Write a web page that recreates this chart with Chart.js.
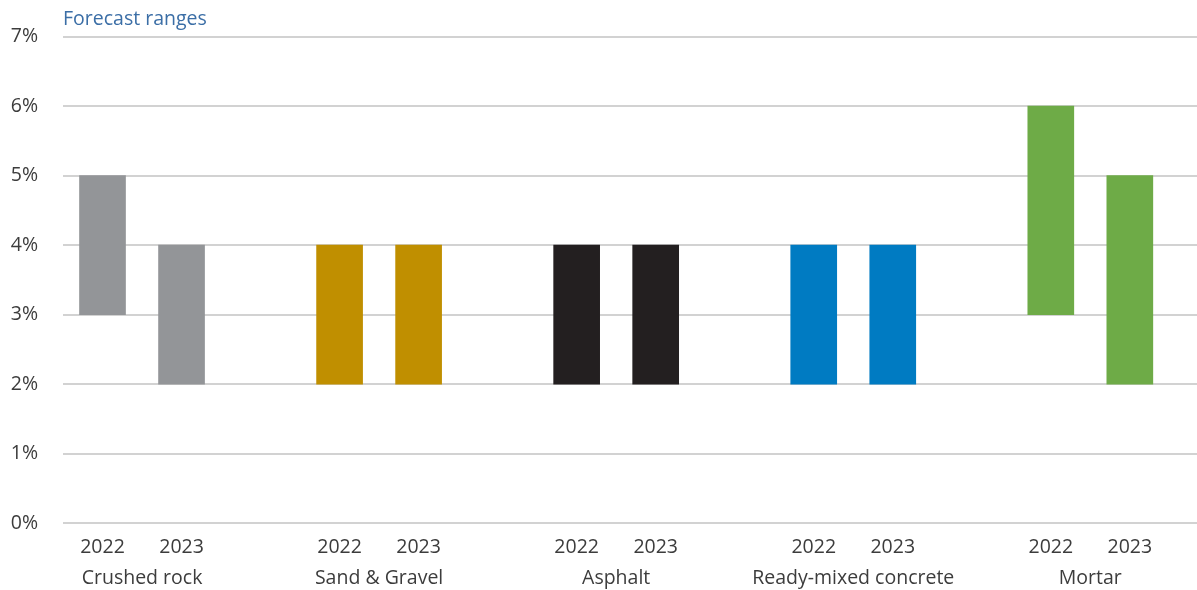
<!DOCTYPE html>
<html>
<head>
<meta charset="utf-8">
<script src="https://cdn.jsdelivr.net/npm/chart.js@4/dist/chart.umd.min.js"></script>
<style>
    html, body { margin: 0; padding: 0; background: #ffffff; }
    #wrap { width: 1197px; height: 590px; }
</style>
</head>
<body>
<div id="wrap"><canvas id="rangeChart"></canvas></div>
<script>
// Materials and the forecast years shown under each pair of bars
const materials = ['Crushed rock', 'Sand & Gravel', 'Asphalt', 'Ready-mixed concrete', 'Mortar'];
const years = ['2022', '2023'];

// Low / high end of each range, in %, ordered material by material (2022, 2023)
const rangeLow  = [3, 2, 2, 2, 2, 2, 2, 2, 3, 2];
const rangeHigh = [5, 4, 4, 4, 4, 4, 4, 4, 6, 5];

const materialColors = ['#939598', '#c08f00', '#231f20', '#007bc2', '#6eab47'];

const yTicks = [0, 1, 2, 3, 4, 5, 6, 7];

document.addEventListener('DOMContentLoaded', function() {
    initRangeChart();
});

function initRangeChart() {
    const ctx = document.getElementById('rangeChart').getContext('2d');

    // each material takes three slots on the x axis: two bars and a gap
    const points = [];
    const colors = [];
    const tickLabels = {};
    materials.forEach((name, m) => {
        years.forEach((yr, k) => {
            const i = m * years.length + k;
            const x = m * 3 + k;
            points.push({ x: x, y: [rangeLow[i], rangeHigh[i]] });
            colors.push(materialColors[m]);
            tickLabels[x] = [yr];
        });
        // material name sits on the second line, centred under its pair
        tickLabels[m * 3 + 0.5] = ['', name];
    });

    const textColor = '#3c3c3c';

    new Chart(ctx, {
        type: 'bar',
        data: {
            datasets: [{
                data: points,
                backgroundColor: colors,
                borderWidth: 0,
                barThickness: 46
            }]
        },
        options: {
            responsive: true,
            maintainAspectRatio: false,
            animation: false,
            layout: {
                padding: { left: 0, right: 0, top: 0, bottom: 0 }
            },
            plugins: {
                legend: { display: false },
                tooltip: { enabled: false },
                title: {
                    display: true,
                    text: 'Forecast ranges',
                    align: 'start',
                    fullSize: false,
                    color: '#3b6ea6',
                    font: { family: 'Open Sans', size: 19.5, weight: 'normal' },
                    padding: { top: 7, bottom: 6 }
                }
            },
            scales: {
                x: {
                    type: 'linear',
                    offset: false,
                    min: -0.5,
                    max: 13.85,
                    grid: { display: false, drawTicks: false },
                    border: { display: false },
                    afterBuildTicks: function(scale) {
                        scale.ticks = Object.keys(tickLabels)
                            .map(Number)
                            .sort((a, b) => a - b)
                            .map(v => ({ value: v }));
                    },
                    afterFit: function(scale) {
                        scale.height = 67;
                    },
                    ticks: {
                        autoSkip: false,
                        maxRotation: 0,
                        padding: 9,
                        color: textColor,
                        font: { family: 'Open Sans', size: 19.5, lineHeight: 1.59 },
                        callback: function(value) {
                            return tickLabels[value] || '';
                        }
                    }
                },
                y: {
                    min: 0,
                    max: 7,
                    afterBuildTicks: function(scale) {
                        scale.ticks = yTicks.map(v => ({ value: v }));
                    },
                    afterFit: function(scale) {
                        scale.width = 63;
                    },
                    grid: {
                        color: '#d2d2d2',
                        lineWidth: 2,
                        drawTicks: false
                    },
                    border: { display: false },
                    ticks: {
                        padding: 25,
                        color: textColor,
                        font: { family: 'Open Sans', size: 19.5 },
                        callback: function(value) {
                            return value + '%';
                        }
                    }
                }
            }
        }
    });
}
</script>
</body>
</html>
